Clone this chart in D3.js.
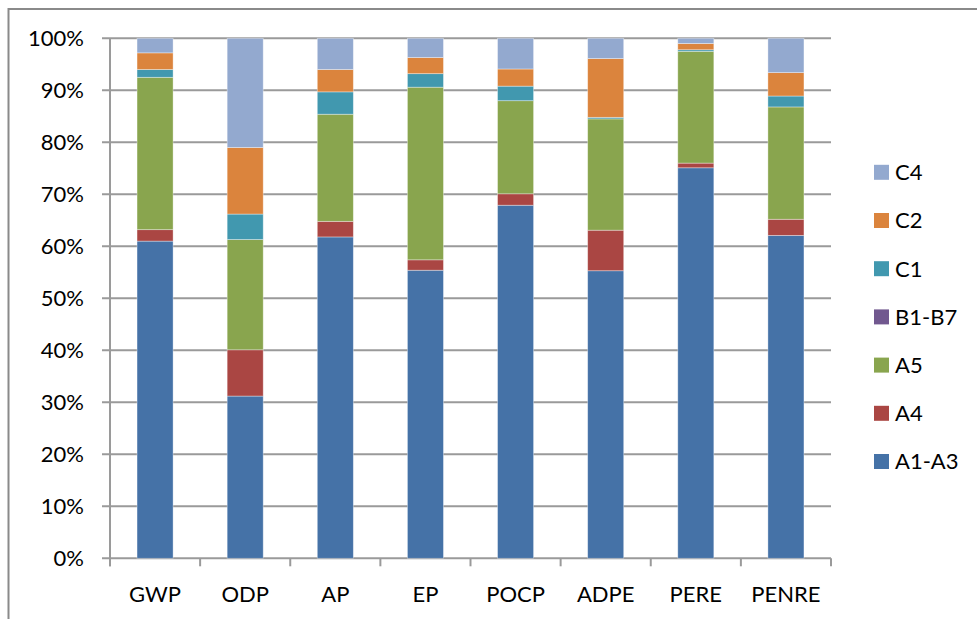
<!DOCTYPE html>
<html>
<head>
<meta charset="utf-8">
<script src="https://cdn.jsdelivr.net/npm/d3@7"></script>
<style>
  html, body { margin: 0; padding: 0; background: #fff; }
  svg { display: block; }
  text { font-family: Lato, "Open Sans", sans-serif; fill: #000; }
</style>
</head>
<body>
<svg id="chart" width="977" height="619"></svg>
<script>
const categories = ["GWP", "ODP", "AP", "EP", "POCP", "ADPE", "PERE", "PENRE"];
const seriesNames = ["A1-A3", "A4", "A5", "B1-B7", "C1", "C2", "C4"];
const a1a3 = [61.0, 31.2, 61.8, 55.4, 67.9, 55.3, 75.1, 62.1];
const a4   = [2.2, 8.9, 3.0, 2.0, 2.2, 7.8, 0.9, 3.1];
const a5   = [29.3, 21.2, 20.6, 33.2, 17.9, 21.4, 21.5, 21.6];
const b1b7 = [0, 0, 0, 0, 0, 0, 0, 0];
const c1   = [1.5, 4.9, 4.3, 2.6, 2.8, 0.3, 0.3, 2.1];
const c2   = [3.2, 12.8, 4.3, 3.1, 3.3, 11.3, 1.2, 4.5];
const c4   = [2.8, 21.0, 6.0, 3.7, 5.9, 3.9, 1.0, 6.6];
const yTicks = [0, 10, 20, 30, 40, 50, 60, 70, 80, 90, 100];
const colors = ["#4572A7", "#AA4643", "#89A54E", "#71588F", "#4198AF", "#DB843D", "#93A9CF"];

(function () {
const seriesValues = [a1a3, a4, a5, b1b7, c1, c2, c4];
const rows = categories.map((c, i) => {
  const r = { cat: c };
  seriesNames.forEach((s, j) => r[s] = seriesValues[j][i]);
  return r;
});
const stacked = d3.stack().keys(seriesNames).offset(d3.stackOffsetExpand)(rows);

const svg = d3.select("#chart");
const pLeft = 110, pRight = 831, pTop = 38.3, pBottom = 558.3;
const fs = 22;

const x = d3.scaleBand().domain(categories).range([pLeft, pRight]).paddingInner(0.6).paddingOuter(0.3);
const y = d3.scaleLinear().domain([0, 1]).range([pBottom, pTop]);

// outer frame
svg.append("rect").attr("x", 8.5).attr("y", 9).attr("width", 1000).attr("height", 700)
  .attr("fill", "none").attr("stroke", "#8a8a8a").attr("stroke-width", 2);

// gridlines
svg.append("g").selectAll("line").data(yTicks).join("line")
  .attr("x1", pLeft - 8).attr("x2", pRight)
  .attr("y1", d => y(d / 100)).attr("y2", d => y(d / 100))
  .attr("stroke", "#9a9a9a").attr("stroke-width", 2);

// y axis line
svg.append("line").attr("x1", pLeft).attr("x2", pLeft).attr("y1", pTop).attr("y2", pBottom + 8)
  .attr("stroke", "#9a9a9a").attr("stroke-width", 2);

// x tick marks at category boundaries
const bounds = d3.range(categories.length + 1).map(i => pLeft + i * (pRight - pLeft) / categories.length);
svg.append("g").selectAll("line").data(bounds).join("line")
  .attr("x1", d => d).attr("x2", d => d).attr("y1", pBottom).attr("y2", pBottom + 8)
  .attr("stroke", "#9a9a9a").attr("stroke-width", 2);

// bars
svg.append("g").selectAll("g").data(stacked).join("g")
  .attr("fill", (d, i) => colors[i])
  .selectAll("rect").data(d => d).join("rect")
  .attr("x", d => x(d.data.cat))
  .attr("width", x.bandwidth())
  .attr("y", d => y(d[1]))
  .attr("height", d => Math.max(0, y(d[0]) - y(d[1])))
  .attr("stroke", "rgba(255,255,255,0.45)")
  .attr("stroke-width", 0.8);

// y labels
svg.append("g").selectAll("text").data(yTicks).join("text")
  .attr("x", 84).attr("y", d => y(d / 100))
  .attr("dy", "0.36em")
  .attr("text-anchor", "end")
  .attr("font-size", fs)
  .text(d => d + "%");

// x labels
svg.append("g").selectAll("text").data(categories).join("text")
  .attr("x", d => x(d) + x.bandwidth() / 2)
  .attr("y", 601.5)
  .attr("text-anchor", "middle")
  .attr("font-size", fs)
  .text(d => d);

// legend (reverse order)
const legendItems = seriesNames.map((s, i) => ({ name: s, color: colors[i] })).reverse();
const lg = svg.append("g").selectAll("g").data(legendItems).join("g")
  .attr("transform", (d, i) => `translate(874, ${172.3 + i * 48.2})`);
lg.append("rect").attr("x", 0).attr("y", -7.5).attr("width", 15).attr("height", 15)
  .attr("fill", d => d.color);
lg.append("text").attr("x", 21).attr("y", 0).attr("dy", "0.36em")
  .attr("font-size", fs).text(d => d.name);
})();
</script>
</body>
</html>
